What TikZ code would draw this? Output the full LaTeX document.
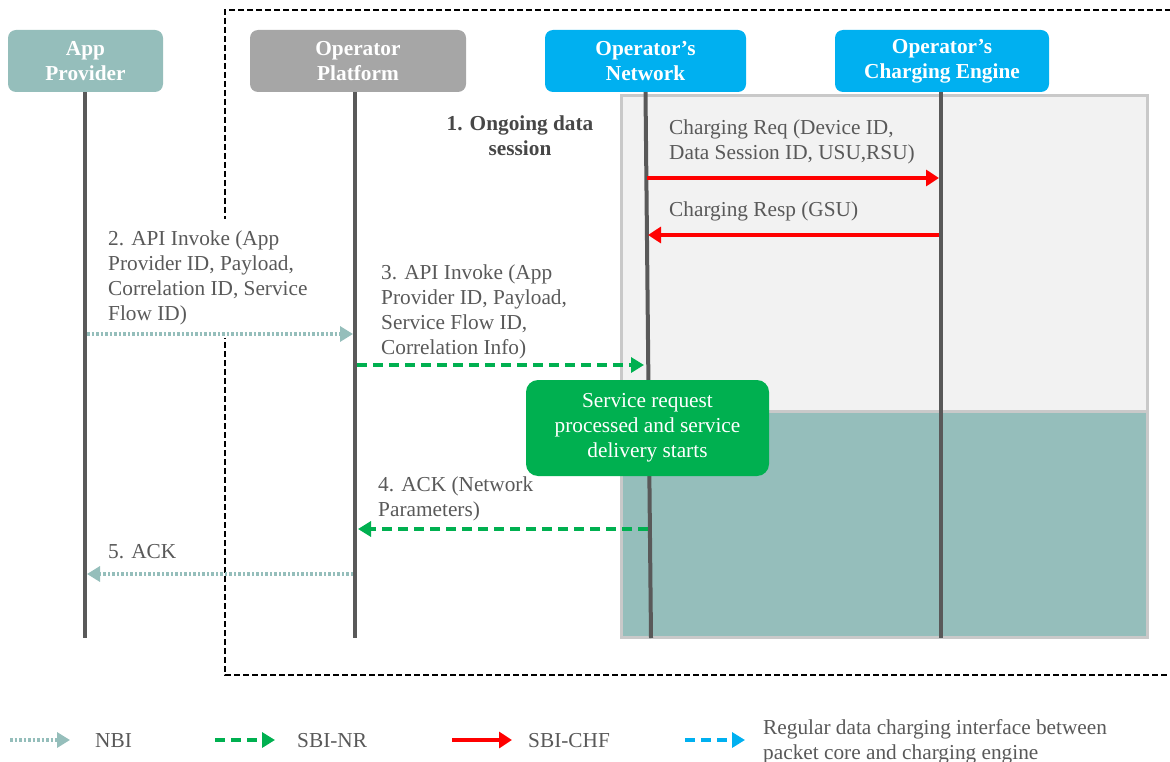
\documentclass[tikz,border=0pt]{standalone}
\usepackage{fontspec}
\setmainfont{Liberation Serif}
\usetikzlibrary{arrows.meta}
\definecolor{tealc}{HTML}{95BEBB}
\definecolor{platgray}{HTML}{A6A6A6}
\definecolor{netblue}{HTML}{00B0F0}
\definecolor{sbigreen}{HTML}{00B050}
\definecolor{chfred}{HTML}{FF0000}
\definecolor{lifegray}{HTML}{595959}
\definecolor{txtgray}{HTML}{595959}
\definecolor{panelgray}{HTML}{F2F2F2}
\definecolor{paneledge}{HTML}{C9C9C9}
\begin{document}
\begin{tikzpicture}[x=1pt,y=-1pt,
  txt/.style={font={\fontsize{21.3}{25}\selectfont}, text=txtgray, inner sep=0pt, align=left, anchor=north west},
  head/.style={rounded corners=8pt, minimum height=62pt, inner sep=0pt, text=white, align=center,
               font={\bfseries\fontsize{21.3}{25}\selectfont}},
  lifeline/.style={draw=lifegray, line width=4pt},
  nbi/.style={draw=tealc, line width=3.5pt, dash pattern=on 2.5pt off 2pt,
              -{Triangle[length=13pt,width=15pt,fill=tealc]}},
  sbinr/.style={draw=sbigreen, line width=3.5pt, dash pattern=on 10pt off 6pt,
              -{Triangle[length=13pt,width=15pt,fill=sbigreen]}},
  sbichf/.style={draw=chfred, line width=3.5pt, -{Triangle[length=13pt,width=16pt,fill=chfred]}},
  regular/.style={draw=netblue, line width=3.5pt, dash pattern=on 10pt off 6pt,
              -{Triangle[length=13pt,width=15pt,fill=netblue]}}]
\useasboundingbox (0,0) rectangle (1170,762);

% operator domain
\draw[black, line width=2pt, dash pattern=on 6pt off 3pt] (1180,10) -- (225,10) -- (225,675) -- (1180,675);

% charging panel with active-service band
\fill[panelgray] (621,96) rectangle (1147,637);
\fill[tealc] (621,411) rectangle (1147,637);
\draw[paneledge, line width=3pt] (621,411) -- (1147,411);
\draw[paneledge, line width=3pt] (621,96) rectangle (1147,637);

% participants
\node[head, fill=tealc, minimum width=155pt] (app) at (85.5,61) {App\\Provider};
\node[head, fill=platgray, minimum width=216pt] (plat) at (358,61) {Operator\\Platform};
\node[head, fill=netblue, minimum width=201pt] (net) at (645.5,61) {Operator’s\\Network};
\node[head, fill=netblue, minimum width=214pt] (chg) at (942,61) {Operator’s\\Charging Engine};

% lifelines
\coordinate (append) at (85,638);
\coordinate (platend) at (355,638);
\coordinate (netend) at (651,638);
\coordinate (chgend) at (941,638);
\draw[lifeline] (app.south -| append) -- (append);
\draw[lifeline] (plat.south -| platend) -- (platend);
\draw[lifeline] (net.south) -- (netend);
\draw[lifeline] (chg.south -| chgend) -- (chgend);

% step 1: ongoing charging
\node[font={\bfseries\fontsize{21.3}{25}\selectfont}, text=lifegray!80!black, align=center, inner sep=0pt] (ongoing) at (520,136) {1. Ongoing data\\session};
\node[txt] (reqlbl) at (669,120) {Charging Req (Device ID,\\Data Session ID, USU,RSU)};
\coordinate (reqs) at (647,178);
\coordinate (reqe) at (939,178);
\draw[sbichf] (reqs) -- (reqe);
\node[txt] (resplbl) at (669,202) {Charging Resp (GSU)};
\coordinate (resps) at (939,235);
\coordinate (respe) at (648,235);
\draw[sbichf] (resps) -- (respe);

% step 2 (label box masks the domain border)
\node[txt, fill=white, inner xsep=4pt, inner ysep=12pt] (api2lbl) at (104,219) {2. API Invoke (App\\Provider ID, Payload,\\Correlation ID, Service\\Flow ID)};
\coordinate (api2s) at (87,334);
\coordinate (api2e) at (353,334);
\draw[nbi] (api2s) -- (api2e);

% step 3
\node[txt] (api3lbl) at (381,265) {3. API Invoke (App\\Provider ID, Payload,\\Service Flow ID,\\Correlation Info)};
\coordinate (api3s) at (357,365);
\coordinate (api3e) at (644,365);
\draw[sbinr] (api3s) -- (api3e);

% service delivery
\node[rounded corners=12pt, fill=sbigreen, minimum width=243pt, minimum height=96pt, inner sep=0pt,
      text=white, align=center, font={\fontsize{21.3}{25}\selectfont}] (svc) at (647.5,428)
      {Service request\\processed and service\\delivery starts};

% step 4
\node[txt] (ack4lbl) at (378,477) {4. ACK (Network\\Parameters)};
\coordinate (ack4s) at (648,529);
\coordinate (ack4e) at (358,529);
\draw[sbinr] (ack4s) -- (ack4e);

% step 5
\node[txt] (ack5lbl) at (108,544) {5. ACK};
\coordinate (ack5s) at (353,574);
\coordinate (ack5e) at (87,574);
\draw[nbi] (ack5s) -- (ack5e);

% legend
\coordinate (lg1s) at (10,740); \coordinate (lg1e) at (70,740);
\coordinate (lg2s) at (215,740); \coordinate (lg2e) at (275,740);
\coordinate (lg3s) at (452,740); \coordinate (lg3e) at (512,740);
\coordinate (lg4s) at (685,740); \coordinate (lg4e) at (745,740);
\draw[nbi] (lg1s) -- (lg1e);
\draw[sbinr] (lg2s) -- (lg2e);
\draw[sbichf] (lg3s) -- (lg3e);
\draw[regular] (lg4s) -- (lg4e);
\node[txt, anchor=west] (lg1t) at (95,741) {NBI};
\node[txt, anchor=west] (lg2t) at (297,741) {SBI-NR};
\node[txt, anchor=west] (lg3t) at (528,741) {SBI-CHF};
\node[txt] (lg4t) at (763,719) {Regular data charging interface between\\packet core and charging engine};
\end{tikzpicture}
\end{document}
